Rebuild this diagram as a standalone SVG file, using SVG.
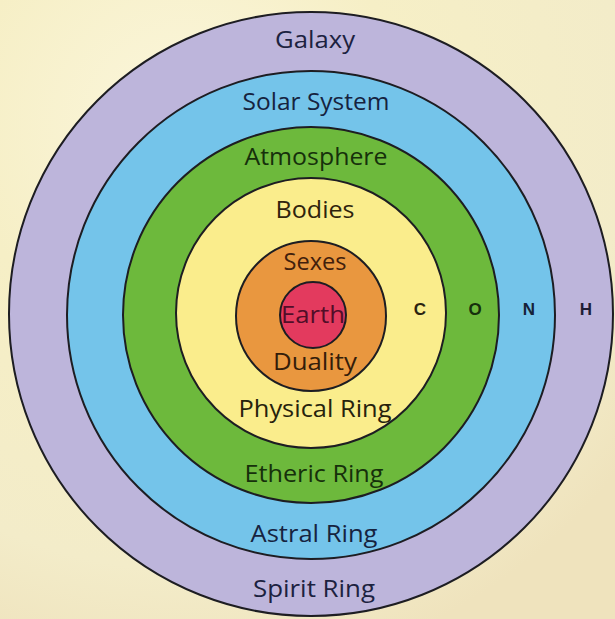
<svg xmlns="http://www.w3.org/2000/svg" width="615" height="619" viewBox="0 0 615 619">
  <defs>
    <radialGradient id="bg" cx="0.3" cy="0.2" r="0.9">
      <stop offset="0" stop-color="#fbf6dc"/>
      <stop offset="0.4" stop-color="#f6efc6"/>
      <stop offset="0.8" stop-color="#f3ecc9"/>
      <stop offset="1" stop-color="#efe3bd"/>
    </radialGradient>
    <style>
      .ring { stroke: #1d1d22; stroke-width: 2; }
      .lbl { font-family: "Open Sans", "Noto Sans", sans-serif; font-size: 23px; text-anchor: middle; }
      .elem { font-family: "Liberation Sans", Arial, sans-serif; font-weight: bold; font-size: 17px; text-anchor: middle; }
    </style>
  </defs>
  <rect x="0" y="0" width="615" height="619" fill="url(#bg)"/>

  <g id="spirit-ring">
    <circle class="ring" cx="311" cy="314" r="302" fill="#bdb5db"/>
  </g>
  <g id="astral-ring">
    <circle class="ring" cx="311" cy="315" r="244" fill="#74c4ea"/>
  </g>
  <g id="etheric-ring">
    <circle class="ring" cx="311" cy="315" r="188" fill="#6db93c"/>
  </g>
  <g id="physical-ring">
    <circle class="ring" cx="311" cy="313" r="135" fill="#faed8c"/>
  </g>
  <g id="duality">
    <circle class="ring" cx="311" cy="316" r="75" fill="#e9973f"/>
  </g>
  <g id="earth">
    <circle class="ring" cx="313" cy="315" r="33" fill="#e33a5e"/>
  </g>

  <g id="labels">
    <text class="lbl" x="315" y="48" fill="#1c2240" textLength="80" lengthAdjust="spacingAndGlyphs">Galaxy</text>
    <text class="lbl" x="316" y="110" fill="#16233f" textLength="147" lengthAdjust="spacingAndGlyphs">Solar System</text>
    <text class="lbl" x="316" y="165" fill="#16300b" textLength="143" lengthAdjust="spacingAndGlyphs">Atmosphere</text>
    <text class="lbl" x="315" y="218" fill="#2e230c" textLength="79" lengthAdjust="spacingAndGlyphs">Bodies</text>
    <text class="lbl" x="315" y="270" fill="#42200c" textLength="63" lengthAdjust="spacingAndGlyphs">Sexes</text>
    <text class="lbl" x="313" y="323" fill="#520e28" font-size="24" textLength="64" lengthAdjust="spacingAndGlyphs">Earth</text>
    <text class="lbl" x="315" y="370" fill="#341d0a" textLength="84" lengthAdjust="spacingAndGlyphs">Duality</text>
    <text class="lbl" x="315" y="417" fill="#26220c" textLength="153" lengthAdjust="spacingAndGlyphs">Physical Ring</text>
    <text class="lbl" x="314" y="482" fill="#16300b" textLength="139" lengthAdjust="spacingAndGlyphs">Etheric Ring</text>
    <text class="lbl" x="314" y="542" fill="#16233f" textLength="127" lengthAdjust="spacingAndGlyphs">Astral Ring</text>
    <text class="lbl" x="314" y="597" fill="#1c2240" textLength="122" lengthAdjust="spacingAndGlyphs">Spirit Ring</text>
  </g>
  <g id="elements">
    <text class="elem" x="420" y="315" fill="#2a2410">C</text>
    <text class="elem" x="475" y="315" fill="#16300c">O</text>
    <text class="elem" x="529" y="315" fill="#152238">N</text>
    <text class="elem" x="586" y="315" fill="#1e1e34">H</text>
  </g>
</svg>
